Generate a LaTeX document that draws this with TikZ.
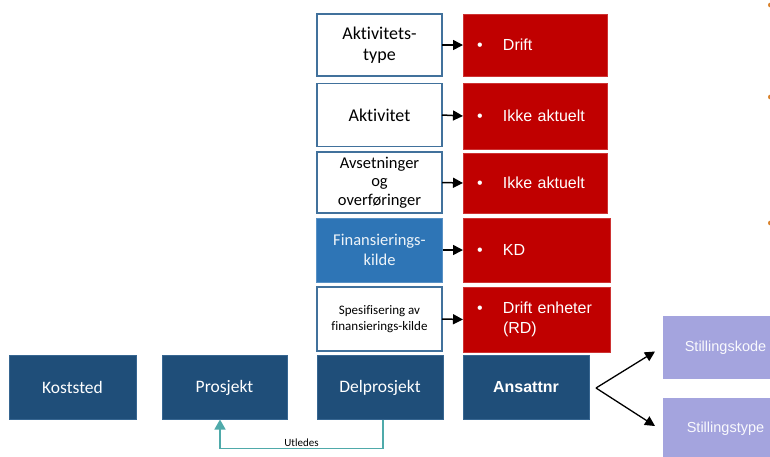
\documentclass[tikz,border=0pt]{standalone}
\usepackage{fontspec}
\setmainfont[Ligatures=NoCommon]{Carlito}
\newfontfamily\arialf{Liberation Sans}
\usetikzlibrary{arrows.meta,calc}
\definecolor{darkblue}{HTML}{1F4E79}
\definecolor{midblue}{HTML}{2E75B6}
\definecolor{boxred}{HTML}{C00000}
\definecolor{lavender}{HTML}{A4A4DE}
\definecolor{frameblue}{HTML}{41719C}
\definecolor{tealline}{HTML}{4FAAAA}
\definecolor{bulletorange}{HTML}{D9822B}
\begin{document}
\begin{tikzpicture}[x=1pt,y=-1pt,
  every node/.style={inner sep=0pt, outer sep=0pt},
  whitebox/.style={draw=frameblue, line width=1.2pt, fill=white, minimum width=125, align=center, text=black},
  navybox/.style={fill=darkblue, draw=frameblue!70!darkblue, line width=0.6pt, minimum width=126, minimum height=64, text=white, font=\fontsize{17.5}{21}\selectfont},
  redbox/.style={fill=boxred, draw=boxred!80!white, line width=0.5pt, text=white, align=left, anchor=north west,
    font=\arialf\fontsize{16}{20}\selectfont, inner xsep=14pt},
  lilacbox/.style={fill=lavender, minimum width=125, text=white!93!lavender, font=\arialf\fontsize{14.5}{17}\selectfont},
  linkarrow/.style={-{Triangle[length=10pt,width=10pt]}, line width=1.5pt, black},
]
\useasboundingbox (0,0) rectangle (770,456);

% left-hand column of attribute boxes
\node[whitebox, minimum height=62, font=\fontsize{18}{21}\selectfont] (atype) at (379.5,45) {Aktivitets-\\type};
\node[whitebox, minimum height=63, font=\fontsize{18}{21}\selectfont] (akt) at (379.5,115) {Aktivitet};
\node[whitebox, minimum height=61, font=\fontsize{16.5}{18.5}\selectfont] (avs) at (379.5,182.5) {Avsetninger\\og\\overføringer};
\node[fill=midblue, draw=midblue!80!white, line width=0.5pt, minimum width=126, minimum height=64, align=center,
  text=white!92!midblue, font=\fontsize{16.5}{20}\selectfont] (fin) at (379.5,250) {Finansierings-\\kilde};
\node[whitebox, minimum height=64, font=\fontsize{13}{16}\selectfont] (spes) at (379.5,319) {Spesifisering av\\finansierings-kilde};

% value boxes
\node[redbox, text width=116, minimum height=62] (vatype) at (463,14) {\makebox[26pt][l]{•}Drift};
\node[redbox, text width=116, minimum height=66] (vakt) at (463,83) {\makebox[26pt][l]{•}Ikke aktuelt};
\node[redbox, text width=116, minimum height=60] (vavs) at (463,153) {\makebox[26pt][l]{•}Ikke aktuelt};
\node[redbox, text width=119, minimum height=64] (vfin) at (463,218) {\makebox[26pt][l]{•}KD};
\node[redbox, text width=119, minimum height=65] (vspes) at (463,287)
  {\begin{tabular}{@{}p{26pt}@{}l@{}}•&Drift enheter\\&(RD)\end{tabular}};

% arrows between attribute and value
\draw[linkarrow] (atype.east) -- (vatype.west);
\draw[linkarrow] (akt.east) -- (vakt.west);
\draw[linkarrow] (avs.east) -- (vavs.west);
\draw[linkarrow] (fin.east) -- (vfin.west);
\draw[linkarrow] (spes.east) -- (vspes.west);

% bottom row
\node[navybox, minimum width=127] (kost) at (72.5,387.5) {Koststed};
\node[navybox, minimum width=125] (pro) at (224.5,387.5) {Prosjekt};
\node[navybox] (del) at (380,387.5) {Delprosjekt};
\node[navybox, font=\arialf\bfseries\fontsize{16}{20}\selectfont] (ans) at (526,387) {Ansattnr};

% position boxes
\node[lilacbox, minimum height=63, anchor=north west] (kode) at (663,316) {Stillingskode};
\node[lilacbox, minimum height=62, anchor=north west] (stype) at (663,398) {Stillingstype};

\coordinate (fork) at ($(ans.east)+(7,1)$);
\draw[linkarrow, line width=1.3pt] (fork) -- ($(kode.west)+(-8,4)$);
\draw[linkarrow, line width=1.3pt] (fork) -- ($(stype.west)+(-8,-3)$);

% derivation link
\draw[tealline, line width=1.5pt, -{Triangle[length=10pt,width=11pt]}]
  ([xshift=3]del.south) |- ($(pro.south)+(-4.5,29)$)
  node[pos=0.75, above=2pt, text=black, font=\fontsize{11}{13}\selectfont] {Utledes}
  -- ([xshift=-4.5]pro.south);

% list markers at the right margin
\foreach \yy in {5,97,223}
  \fill[bulletorange] (770.5,\yy) circle (2.5);
\end{tikzpicture}
\end{document}
